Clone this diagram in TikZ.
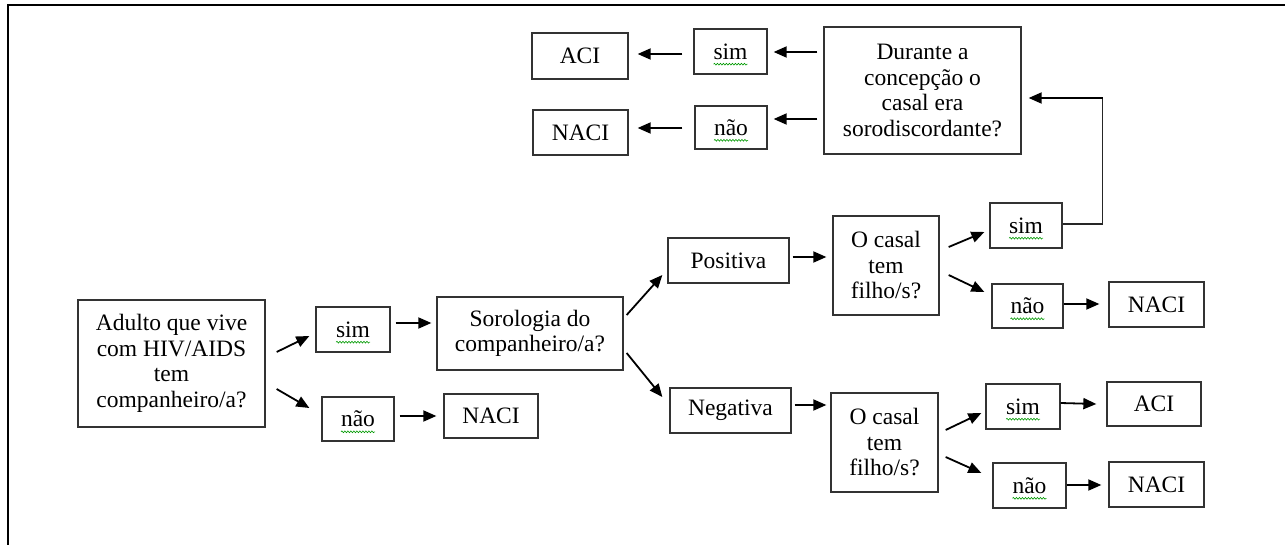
\documentclass[tikz,border=0pt]{standalone}
\usepackage{fontspec}
\setmainfont{Liberation Serif}
\usetikzlibrary{arrows.meta,decorations.pathmorphing}
\tikzset{
  box/.style={draw=black!80, line width=1.3pt, rectangle, inner sep=0pt, align=center,
    font=\fontsize{23.5}{25.5}\selectfont, text=black},
  arr/.style={line width=1.8pt, -{Triangle[length=13pt,width=11pt]}},
  link/.style={line width=1.3pt, draw=black!85},
  spellst/.style={draw=green!60!black, line width=0.6pt, decorate,
    decoration={snake, amplitude=0.9pt, segment length=3pt}},
  frame/.style={line width=2pt}
}
\newcommand\spellmark[1]{\draw[spellst] ([xshift=-17pt,yshift=-5pt]#1.base) -- ([xshift=17pt,yshift=-5pt]#1.base);}
\begin{document}
\begin{tikzpicture}[x=1pt,y=-1pt]
\useasboundingbox (0,0) rectangle (1285,545);
% outer frame
\coordinate (fbl) at (8,545);
\coordinate (ftl) at (8,5);
\coordinate (ftr) at (1285,5);
\draw[frame] (fbl) -- (ftl) -- (ftr);

% nodes
\node[box, minimum width=187pt, minimum height=127pt] (adulto) at (171.5,363.5) {Adulto que vive\\com HIV/AIDS\\tem\\companheiro/a?};
\node[box, minimum width=74pt, minimum height=45pt] (sim1) at (353,329.5) {sim};
\node[box, minimum width=72pt, minimum height=44pt] (nao1) at (358,419) {não};
\node[box, minimum width=186pt, minimum height=73pt] (soro) at (530,333.5) {Sorologia do\\companheiro/a?};
\node[box, minimum width=94pt, minimum height=44pt] (naci1) at (491,416) {NACI};
\node[box, minimum width=121pt, minimum height=45pt] (pos) at (728.5,260.5) {Positiva};
\node[box, minimum width=121pt, minimum height=45pt] (neg) at (730.5,410.5) {Negativa};
\node[box, minimum width=106pt, minimum height=99pt] (casal1) at (886,265.5) {O casal\\tem\\filho/s?};
\node[box, minimum width=72pt, minimum height=45pt] (sim2) at (1026,225.5) {sim};
\node[box, minimum width=71pt, minimum height=44pt] (nao2) at (1027.5,306) {não};
\node[box, minimum width=95pt, minimum height=45pt] (naci2) at (1156.5,304.5) {NACI};
\node[box, minimum width=107pt, minimum height=99pt] (casal2) at (884.5,442.5) {O casal\\tem\\filho/s?};
\node[box, minimum width=74pt, minimum height=45pt] (sim4) at (1023,406.5) {sim};
\node[box, minimum width=94pt, minimum height=44pt] (aci4) at (1154,404) {ACI};
\node[box, minimum width=73pt, minimum height=45pt] (nao4) at (1029.5,485.5) {não};
\node[box, minimum width=95pt, minimum height=45pt] (naci4) at (1156.5,484.5) {NACI};
\node[box, minimum width=197pt, minimum height=127pt] (dur) at (922.5,90.5) {Durante a\\concepção o\\casal era\\sorodiscordante?};
\node[box, minimum width=73pt, minimum height=45pt] (sim3) at (730.5,51.5) {sim};
\node[box, minimum width=72pt, minimum height=43pt] (nao3) at (731,127.5) {não};
\node[box, minimum width=96pt, minimum height=46pt] (aci3) at (580,56) {ACI};
\node[box, minimum width=95pt, minimum height=45pt] (naci3) at (580.5,132.5) {NACI};

% spell-check marks
\spellmark{sim1}\spellmark{nao1}\spellmark{sim2}\spellmark{nao2}
\spellmark{sim3}\spellmark{nao3}\spellmark{sim4}\spellmark{nao4}

% connectors
\draw[arr] ([shift={(11,-11.5)}]adulto.east) -- ([shift={(-6,6.5)}]sim1.west);
\draw[arr] ([shift={(11,25.5)}]adulto.east) -- ([shift={(-12,-11)}]nao1.west);
\draw[arr] ([shift={(5,-6.5)}]sim1.east) -- ([shift={(-5,-10.5)}]soro.west);
\draw[arr] ([shift={(5,-3)}]nao1.east) -- ([shift={(-7,0)}]naci1.west);
\draw[arr] ([shift={(3,-18.5)}]soro.east) -- ([shift={(-5,14.5)}]pos.west);
\draw[arr] ([shift={(3,19.5)}]soro.east) -- ([shift={(-7,-13.5)}]neg.west);
\draw[arr] ([shift={(3,-3.5)}]pos.east) -- ([shift={(-6,-8.5)}]casal1.west);
\draw[arr] ([shift={(3,-5.5)}]neg.east) -- ([shift={(-4,-37.5)}]casal2.west);
\draw[arr] ([shift={(9,-18.5)}]casal1.east) -- ([shift={(-5,6.5)}]sim2.west);
\draw[arr] ([shift={(9,9.5)}]casal1.east) -- ([shift={(-7,-14)}]nao2.west);
\draw[arr] ([shift={(0,-2)}]nao2.east) -- ([shift={(-9,-0.5)}]naci2.west);
\draw[link] ([shift={(0,-1.5)}]sim2.east) -| ([shift={(81,7.5)}]dur.east);
\draw[arr] ([shift={(81,7.5)}]dur.east) -- ([shift={(7,7.5)}]dur.east);
\draw[arr] ([shift={(-6,-38.5)}]dur.west) -- ([shift={(6,0.5)}]sim3.east);
\draw[arr] ([shift={(-6,28.5)}]dur.west) -- ([shift={(6,-8.5)}]nao3.east);
\draw[arr] ([shift={(-11,2.5)}]sim3.west) -- ([shift={(9,-2)}]aci3.east);
\draw[arr] ([shift={(-12,0.5)}]nao3.west) -- ([shift={(9,-4.5)}]naci3.east);
\draw[arr] ([shift={(7,-12.5)}]casal2.east) -- ([shift={(-4,6.5)}]sim4.west);
\draw[arr] ([shift={(7,14.5)}]casal2.east) -- ([shift={(-11,-12.5)}]nao4.west);
\draw[arr] ([shift={(0,-3.5)}]sim4.east) -- ([shift={(-10,0)}]aci4.west);
\draw[arr] ([shift={(0,-0.5)}]nao4.east) -- ([shift={(-7,0.5)}]naci4.west);
\end{tikzpicture}
\end{document}
